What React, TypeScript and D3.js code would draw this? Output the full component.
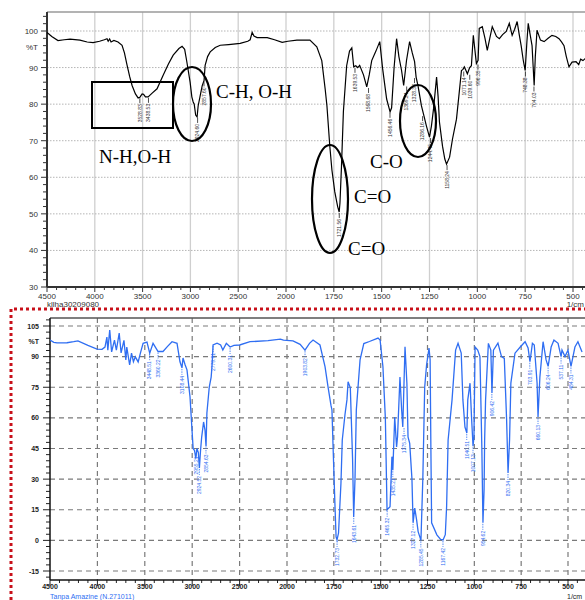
import { useEffect, useRef } from "react";
import * as d3 from "d3";

const topSpectrum: [number, number][] = [
  [4500, 99.6], [4450, 98.5], [4385, 97.4], [4320, 97.6], [4259, 97.8], [4155, 97.5], [4080, 97.0],
  [4018, 96.8], [3950, 97.2], [3900, 97.6], [3872, 97.9], [3860, 97.2], [3845, 97.8], [3830, 97.0],
  [3800, 97.4], [3757, 97.0], [3715, 96.1], [3690, 94.0], [3662, 90.6], [3635, 87.5], [3610, 85.1],
  [3575, 82.8], [3547, 81.7], [3528, 81.9], [3505, 82.8], [3490, 82.7], [3470, 82.0], [3442, 82.0],
  [3400, 83.0], [3349, 84.2], [3285, 87.9], [3230, 91.0], [3180, 93.4], [3120, 95.2], [3087, 95.8],
  [3060, 95.0], [3040, 92.0], [3003, 86.0], [2985, 82.0], [2971, 80.6], [2960, 80.0], [2945, 77.0],
  [2930, 76.5], [2919, 79.5], [2900, 82.0], [2877, 85.0], [2857, 86.5], [2846, 90.6], [2820, 93.0],
  [2793, 94.3], [2740, 95.5], [2688, 96.1], [2600, 96.3], [2479, 96.6], [2400, 97.2], [2375, 97.6],
  [2354, 99.6], [2335, 98.6], [2302, 98.2], [2196, 98.2], [2120, 97.6], [2040, 96.9], [1990, 97.2],
  [1943, 97.5], [1875, 97.5], [1839, 95.7], [1813, 91.9], [1795, 84.0], [1786, 79.5], [1771, 68.5],
  [1760, 62.0], [1745, 56.0], [1730, 52.0], [1722, 50.5], [1718, 53.0], [1710, 63.0], [1700, 78.0],
  [1683, 90.5], [1668, 94.5], [1656, 95.4], [1646, 90.2], [1635, 90.5], [1625, 90.0], [1615, 90.6],
  [1595, 88.0], [1578, 84.7], [1565, 88.0], [1552, 91.9], [1530, 94.5], [1510, 97.1], [1495, 89.7],
  [1474, 81.4], [1456, 77.9], [1448, 79.0], [1435, 90.0], [1422, 97.9], [1410, 93.0], [1396, 89.2],
  [1385, 85.1], [1370, 92.0], [1354, 97.1], [1340, 94.0], [1328, 91.6], [1320, 87.4], [1310, 85.0],
  [1292, 79.5], [1280, 77.0], [1266, 74.0], [1250, 71.0], [1240, 74.0], [1229, 78.7], [1213, 87.4],
  [1205, 82.0], [1198, 75.1], [1182, 68.5], [1170, 65.0], [1161, 63.6], [1145, 65.5], [1130, 70.4],
  [1109, 75.9], [1095, 83.0], [1083, 89.2], [1075, 89.5], [1068, 90.2], [1052, 88.3], [1040, 90.0],
  [1031, 90.5], [1021, 98.8], [1005, 91.1], [996, 92.0], [990, 100.7], [974, 101.2], [960, 98.0],
  [948, 94.7], [935, 98.0], [922, 101.2], [900, 98.5], [885, 97.9], [868, 99.0], [849, 99.9],
  [833, 102.1], [818, 98.8], [805, 100.5], [792, 102.6], [781, 99.0], [771, 96.0], [760, 92.0],
  [750, 89.2], [741, 97.0], [734, 102.1], [724, 99.0], [714, 96.0], [708, 90.0], [703, 85.1],
  [697, 93.0], [688, 100.2], [670, 97.5], [651, 97.1], [630, 98.0], [610, 98.8], [590, 98.5],
  [573, 97.9], [560, 97.0], [547, 96.0], [535, 93.0], [521, 90.2], [505, 91.5], [484, 91.6],
  [470, 90.8], [460, 92.3], [448, 91.9], [435, 92.5],
];

const topPeaks: [number, number][] = [
  [3528.83, 81.9], [3438.53, 82.0], [2924.6, 76.5], [2857.6, 86.5], [1721.56, 50.5], [1639.53, 90.2],
  [1568.68, 84.7], [1456.46, 77.9], [1369.24, 85.1], [1328.38, 87.4], [1286.16, 77.0], [1244.45, 71.0],
  [1158.24, 63.6], [1071.14, 89.2], [1039.6, 88.3], [996.35, 91.1], [748.38, 89.2], [704.03, 85.1],
];

const bottomSpectrum: [number, number][] = [
  [4500, 98.1], [4460, 97.0], [4426, 96.7], [4321, 96.8], [4250, 97.3], [4205, 97.7], [4100, 95.5],
  [4004, 93.7], [3951, 93.6], [3920, 94.7], [3900, 99.6], [3890, 93.2], [3870, 103.0], [3850, 92.3],
  [3820, 98.1], [3800, 93.2], [3770, 101.5], [3750, 91.8], [3720, 98.0], [3700, 88.4], [3690, 94.7],
  [3660, 85.9], [3640, 91.7], [3620, 87.5], [3600, 89.9], [3570, 87.4], [3545, 92.0], [3518, 96.5],
  [3477, 97.1], [3448, 91.7], [3413, 96.5], [3360, 92.5], [3308, 92.5], [3260, 95.0], [3213, 97.3],
  [3160, 96.5], [3129, 87.5], [3108, 84.5], [3097, 89.3], [3075, 86.0], [3055, 83.5], [3023, 70.3],
  [3002, 54.0], [2990, 45.0], [2975, 44.0], [2962, 40.0], [2950, 45.0], [2935, 43.0], [2924, 35.5],
  [2912, 44.0], [2900, 50.6], [2880, 58.0], [2865, 54.0], [2854, 46.0], [2845, 62.4], [2820, 75.1],
  [2800, 80.0], [2790, 85.9], [2780, 95.7], [2738, 96.6], [2700, 95.7], [2677, 93.2], [2640, 96.5],
  [2600, 94.7], [2560, 95.5], [2500, 95.7], [2390, 97.3], [2200, 97.8], [2070, 98.6], [2037, 98.1],
  [1968, 97.7], [1930, 96.0], [1904, 93.2], [1880, 96.5], [1861, 98.1], [1824, 95.7], [1797, 85.1],
  [1781, 75.2], [1765, 66.0], [1760, 63.9], [1754, 45.7], [1745, 20.0], [1738, 1.7], [1733, 0.2],
  [1725, 3.6], [1712, 28.0], [1705, 49.2], [1690, 62.0], [1680, 68.8], [1674, 77.7], [1662, 74.7],
  [1650, 40.0], [1644, 11.5], [1637, 30.0], [1630, 63.9], [1610, 88.4], [1590, 96.4], [1560, 97.4],
  [1514, 99.1], [1503, 98.1], [1488, 85.2], [1475, 60.0], [1466, 15.0], [1450, 16.5], [1440, 41.0],
  [1435, 34.4], [1425, 60.4], [1415, 45.8], [1410, 50.7], [1397, 80.0], [1388, 63.9], [1382, 55.5],
  [1370, 94.8], [1360, 77.0], [1354, 50.7], [1345, 47.5], [1333, 30.0], [1327, 8.6], [1318, 15.8],
  [1308, 9.9], [1300, 4.3], [1285, 0.0], [1275, 30.0], [1265, 75.0], [1255, 85.9], [1242, 94.2],
  [1236, 88.5], [1232, 45.8], [1228, 8.6], [1200, 2.7], [1180, 0.5], [1167, 0.2], [1155, 2.8],
  [1148, 16.5], [1140, 49.2], [1119, 68.8], [1100, 93.2], [1087, 96.5], [1070, 91.7], [1061, 68.8],
  [1050, 55.5], [1040, 52.6], [1035, 68.8], [1023, 77.0], [1015, 60.4], [1007, 46.1], [1002, 50.7],
  [996, 94.7], [982, 93.2], [970, 90.0], [960, 45.8], [954, 8.6], [948, 24.7], [945, 49.2],
  [940, 68.8], [925, 96.5], [912, 93.2], [906, 72.2], [898, 93.2], [874, 96.6], [855, 90.0],
  [840, 89.1], [828, 60.0], [820, 33.0], [812, 49.2], [805, 77.0], [783, 91.7], [755, 94.7],
  [729, 97.3], [713, 94.2], [703, 87.5], [690, 96.5], [680, 95.7], [665, 77.0], [660, 60.4],
  [650, 80.1], [633, 97.3], [617, 88.4], [606, 85.2], [590, 94.7], [575, 98.1], [553, 96.5],
  [537, 90.0], [532, 93.2], [516, 90.0], [500, 93.2], [484, 85.2], [463, 94.7], [447, 97.3], [425, 92.3],
];

const bottomPeaks: [number, number][] = [
  [3448.51, 91.7], [3360.22, 92.5], [3108.44, 84.5], [2955.21, 45.0], [2924.52, 35.5], [2854.63, 46.0],
  [2779.91, 95.7], [2600.31, 94.7], [1903.82, 93.2], [1732.73, 0.2], [1643.61, 11.5], [1465.32, 15.0],
  [1435.21, 34.4], [1375.34, 55.5], [1327.12, 8.6], [1285.45, 0.0], [1167.42, 0.2], [1040.51, 52.6],
  [1007.13, 46.1], [954.62, 8.6], [906.42, 72.2], [820.34, 33.0], [703.91, 87.5], [660.13, 60.4],
  [606.24, 85.2], [537.11, 90.0], [484.31, 85.2],
];

const xTickValues = [4500, 4000, 3500, 3000, 2500, 2000, 1750, 1500, 1250, 1000, 750, 500];
const topYTicks = [30, 40, 50, 60, 70, 80, 90, 100];
const bottomYTicks = [-15, 0, 15, 30, 45, 60, 75, 90, 105];

const sans = "'Liberation Sans', Arial, sans-serif";
const serif = "'Liberation Serif', 'Times New Roman', serif";
const blue = "#2f6ef2";

const minorX = () => {
  const out: number[] = [];
  for (let v = 4500; v > 2000; v -= 100) out.push(v);
  for (let v = 2000; v >= 450; v -= 50) out.push(v);
  return out;
};

const App = () => {
  const svgRef = useRef<SVGSVGElement>(null);

  useEffect(() => {
    const svg = d3.select(svgRef.current);
    svg.selectAll("*").remove();

    // ---------------- upper spectrum ----------------
    const x1 = d3.scaleLinear().domain([4500, 2000, 500]).range([47, 286, 573]);
    const y1 = d3.scaleLinear().domain([30, 100]).range([287, 31]);
    const top = svg.append("g");

    svg.append("clipPath").attr("id", "clipTop")
      .append("rect").attr("x", 47).attr("y", 12).attr("width", 540).attr("height", 275);

    top.selectAll(".vg").data(xTickValues.slice(1)).enter().append("line")
      .attr("x1", (d) => x1(d)).attr("x2", (d) => x1(d)).attr("y1", 12).attr("y2", 287)
      .attr("stroke", "#cfcfcf").attr("stroke-width", 1.3);
    top.selectAll(".hg").data(topYTicks.slice(1)).enter().append("line")
      .attr("x1", 47).attr("x2", 585).attr("y1", (d) => y1(d)).attr("y2", (d) => y1(d))
      .attr("stroke", "#b5b5b5").attr("stroke-dasharray", "1.5,1.5");
    top.append("line").attr("x1", 47).attr("x2", 585).attr("y1", 12).attr("y2", 12)
      .attr("stroke", "#9a9a9a").attr("stroke-width", 1.5);

    // axes
    const tyAxis = top.append("g").attr("transform", "translate(47,0)");
    tyAxis.selectAll(".mt").data(d3.range(30, 106, 2)).enter().append("line")
      .attr("x1", (d) => (d % 10 === 0 ? -6 : -4)).attr("x2", 0)
      .attr("y1", (d) => y1(d)).attr("y2", (d) => y1(d)).attr("stroke", "#333");
    tyAxis.selectAll(".lb").data(topYTicks).enter().append("text")
      .attr("x", -9).attr("y", (d) => y1(d) + 3).attr("text-anchor", "end")
      .attr("font-family", sans).attr("font-size", 8).attr("fill", "#333").text((d) => d);
    tyAxis.append("text").attr("x", -9).attr("y", y1(95.5) + 3).attr("text-anchor", "end")
      .attr("font-family", sans).attr("font-size", 8).attr("fill", "#333").text("%T");
    tyAxis.append("line").attr("x1", 0).attr("x2", 0).attr("y1", 12).attr("y2", 287)
      .attr("stroke", "#333").attr("stroke-width", 2);

    const txAxis = top.append("g").attr("transform", "translate(0,287)");
    txAxis.selectAll(".mt").data(minorX()).enter().append("line")
      .attr("x1", (d) => x1(d)).attr("x2", (d) => x1(d)).attr("y1", 0)
      .attr("y2", (d) => (xTickValues.includes(d) ? 5 : 3)).attr("stroke", "#333");
    txAxis.selectAll(".lb").data(xTickValues).enter().append("text")
      .attr("x", (d) => x1(d)).attr("y", 12).attr("text-anchor", "middle")
      .attr("font-family", sans).attr("font-size", 8).attr("fill", "#333").text((d) => d);
    txAxis.append("line").attr("x1", 47).attr("x2", 585).attr("y1", 0).attr("y2", 0)
      .attr("stroke", "#333").attr("stroke-width", 2);
    svg.append("text").attr("x", 47).attr("y", 307).attr("font-family", sans).attr("font-size", 8)
      .attr("fill", "#333").text("kllha30209080");
    svg.append("text").attr("x", 584).attr("y", 307).attr("text-anchor", "end")
      .attr("font-family", sans).attr("font-size", 8).attr("fill", "#333").text("1/cm");

    const line1 = d3.line<[number, number]>().x((d) => x1(d[0])).y((d) => y1(d[1]));
    top.append("path").datum(topSpectrum).attr("d", line1).attr("clip-path", "url(#clipTop)")
      .attr("fill", "none").attr("stroke", "#000").attr("stroke-width", 1.2);

    const tp = top.selectAll(".pk").data(topPeaks).enter().append("g")
      .attr("transform", (d) => `translate(${x1(d[0])},${y1(d[1])})`);
    tp.append("line").attr("x1", 0).attr("x2", 0).attr("y1", 1).attr("y2", 6)
      .attr("stroke", "#222").attr("stroke-width", 0.8);
    tp.append("text").attr("transform", "translate(1.8,7) rotate(-90)").attr("text-anchor", "end")
      .attr("font-family", sans).attr("font-size", 5).attr("fill", "#333").text((d) => d[0].toFixed(2));

    // annotations
    top.append("rect").attr("x", 92).attr("y", 82).attr("width", 81).attr("height", 46)
      .attr("fill", "none").attr("stroke", "#000").attr("stroke-width", 2);
    const ell = [[192, 104, 19, 37], [330, 199, 18, 54], [418, 121, 18, 36]];
    top.selectAll(".el").data(ell).enter().append("ellipse")
      .attr("cx", (d) => d[0]).attr("cy", (d) => d[1]).attr("rx", (d) => d[2]).attr("ry", (d) => d[3])
      .attr("fill", "none").attr("stroke", "#000").attr("stroke-width", 2.2);
    const notes: [string, number, number][] = [
      ["C-H, O-H", 216, 98], ["N-H,O-H", 99, 163], ["C-O", 370, 168], ["C=O", 354, 203], ["C=O", 348, 255],
    ];
    top.selectAll(".nt").data(notes).enter().append("text")
      .attr("x", (d) => d[1]).attr("y", (d) => d[2]).attr("font-family", serif).attr("font-size", 19)
      .attr("fill", "#000").text((d) => d[0]);

    // ---------------- lower spectrum ----------------
    const x2 = d3.scaleLinear().domain([4500, 2000, 500]).range([50, 287, 568]);
    const y2 = d3.scaleLinear().domain([-15, 105]).range([571, 326]);
    const bot = svg.append("g");

    svg.append("path").attr("d", "M11,600V309H585").attr("fill", "none")
      .attr("stroke", "#c8101a").attr("stroke-width", 3).attr("stroke-dasharray", "3,3");

    svg.append("clipPath").attr("id", "clipBot")
      .append("rect").attr("x", 50).attr("y", 318).attr("width", 540).attr("height", 262);

    bot.selectAll(".vg").data(xTickValues.slice(1)).enter().append("line")
      .attr("x1", (d) => x2(d)).attr("x2", (d) => x2(d)).attr("y1", 318).attr("y2", 580)
      .attr("stroke", "#7a7a7a").attr("stroke-width", 1.2).attr("stroke-dasharray", "5,4");
    bot.selectAll(".hg").data(bottomYTicks).enter().append("line")
      .attr("x1", 50).attr("x2", 585).attr("y1", (d) => y2(d)).attr("y2", (d) => y2(d))
      .attr("stroke", "#7a7a7a").attr("stroke-width", 1.2).attr("stroke-dasharray", "5,4");
    bot.append("line").attr("x1", 50).attr("x2", 585).attr("y1", 318).attr("y2", 318)
      .attr("stroke", "#555").attr("stroke-width", 1.5);

    const byAxis = bot.append("g").attr("transform", "translate(50,0)");
    byAxis.selectAll(".mt").data(d3.range(-18, 109, 3)).enter().append("line")
      .attr("x1", (d) => (d % 15 === 0 ? -7 : -4)).attr("x2", 0)
      .attr("y1", (d) => y2(d)).attr("y2", (d) => y2(d)).attr("stroke", "#222");
    byAxis.selectAll(".lb").data(bottomYTicks).enter().append("text")
      .attr("x", -11).attr("y", (d) => y2(d) + 2.5).attr("text-anchor", "end")
      .attr("font-family", sans).attr("font-size", 7).attr("font-weight", "bold").attr("fill", "#222")
      .text((d) => d);
    byAxis.append("text").attr("x", -11).attr("y", y2(97.5) + 2.5).attr("text-anchor", "end")
      .attr("font-family", sans).attr("font-size", 7).attr("font-weight", "bold").attr("fill", "#222").text("%T");
    byAxis.append("line").attr("x1", 0).attr("x2", 0).attr("y1", 318).attr("y2", 580)
      .attr("stroke", "#111").attr("stroke-width", 1.5);

    const bxAxis = bot.append("g").attr("transform", "translate(0,580)");
    bxAxis.selectAll(".mt").data(minorX()).enter().append("line")
      .attr("x1", (d) => x2(d)).attr("x2", (d) => x2(d)).attr("y1", 0)
      .attr("y2", (d) => (xTickValues.includes(d) ? 6 : 3)).attr("stroke", "#222");
    bxAxis.selectAll(".lb").data(xTickValues).enter().append("text")
      .attr("x", (d) => x2(d)).attr("y", 9).attr("text-anchor", "middle")
      .attr("font-family", sans).attr("font-size", 7).attr("font-weight", "bold").attr("fill", "#222")
      .text((d) => d);
    bxAxis.append("line").attr("x1", 50).attr("x2", 585).attr("y1", 0).attr("y2", 0)
      .attr("stroke", "#111").attr("stroke-width", 1.5);
    svg.append("text").attr("x", 50).attr("y", 599).attr("font-family", sans).attr("font-size", 7)
      .attr("fill", blue).text("Tanpa Amazine (N.271011)");
    svg.append("text").attr("x", 567).attr("y", 599).attr("font-family", sans).attr("font-size", 7)
      .attr("fill", "#222").text("1/cm");

    const line2 = d3.line<[number, number]>().x((d) => x2(d[0])).y((d) => y2(d[1]));
    bot.append("path").datum(bottomSpectrum).attr("d", line2).attr("clip-path", "url(#clipBot)")
      .attr("fill", "none").attr("stroke", blue).attr("stroke-width", 1.3);

    const bp = bot.selectAll(".pk").data(bottomPeaks).enter().append("g")
      .attr("transform", (d) => `translate(${x2(d[0])},${y2(d[1])})`);
    bp.append("line").attr("x1", 0).attr("x2", 0).attr("y1", 1).attr("y2", 7)
      .attr("stroke", blue).attr("stroke-width", 0.8).attr("stroke-dasharray", "1.5,1");
    bp.append("text").attr("transform", "translate(1.8,8) rotate(-90)").attr("text-anchor", "end")
      .attr("font-family", sans).attr("font-size", 5).attr("fill", blue).text((d) => d[0].toFixed(2));
  }, []);

  return (
    <svg ref={svgRef} width={585} height={600}
      style={{ position: "absolute", left: 0, top: 0, background: "#fff" }} />
  );
};

export default App;
